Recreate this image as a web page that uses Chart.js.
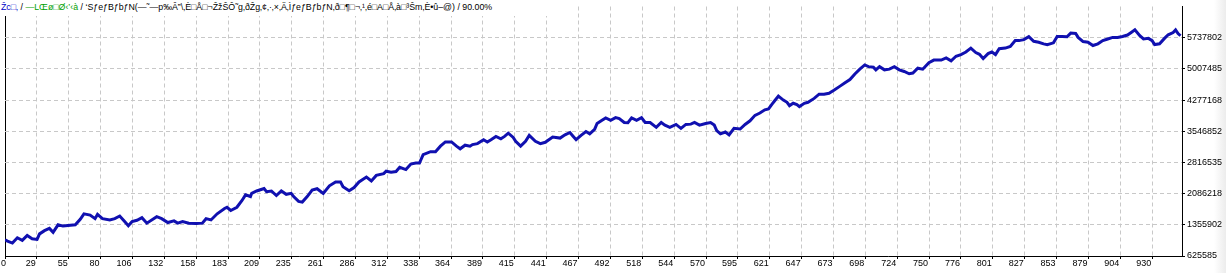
<!DOCTYPE html>
<html>
<head>
<meta charset="utf-8">
<script src="https://cdn.jsdelivr.net/npm/chart.js@4/dist/chart.umd.min.js"></script>
<style>
  html, body { margin:0; padding:0; background:#fff; }
  #wrap { position:relative; width:1226px; height:273px; overflow:hidden; background:#fff; }
  #edge { position:absolute; right:0; top:0; width:12px; height:273px;
          background:linear-gradient(to right, #ffffff, #ececec); }
  #c { position:absolute; left:0; top:0; }
  #title { position:absolute; left:1px; top:1px; height:15px; width:560px; background:#fff;
           font-family:'Liberation Sans', Arial, sans-serif; font-size:8.8px; line-height:13px;
           white-space:nowrap; color:#000; }
  #title .b { color:#0000c8; }
  #title .g { color:#00a000; }
</style>
</head>
<body>
<div id="wrap">
  <div id="edge"></div>
  <canvas id="c" width="1226" height="273"></canvas>
  <div id="title"><span class="b">Žc□‚</span> / <span class="g">—LŒø□Ø‹’‹à</span> / ‘SƒeƒBƒbƒN(—˜—p‰Â”\‚È□Å□¬ŽžŠÔ˜g‚ðŽg‚¢‚·‚×‚Ä‚ÌƒeƒBƒbƒN‚ð□¶□¬‚¹‚é□A□Å‚à□³Šm‚È•û–@) / 90.00%</div>
</div>
<script>
// ---- data ----
const xTickLabels = ['0','29','55','80','106','132','158','183','209','235','261','286','312','338','364','389','415','441','467','492','518','544','570','595','621','647','673','698','724','750','776','801','827','853','879','904','930'];
const yTickValues = [625585, 1355902, 2086218, 2816535, 3546852, 4277168, 5007485, 5737802];

const trades = [0,2,6,10,14,18,22,26,28,32,36,39,43,47,51,57,61,64,69,73,75,79,85,89,93,97,100,103,107,111,115,123,127,132,137,140,144,149,155,160,163,167,172,178,180,183,188,192,195,199,200,204,210,212,216,220,224,228,232,234,238,241,245,249,253,258,263,268,272,274,279,283,287,293,297,301,307,309,313,317,320,325,329,333,336,339,345,349,353,357,362,366,369,373,377,379,383,388,391,394,398,402,405,408,412,414,418,422,425,430,434,438,444,450,454,458,460,463,467,471,474,478,480,484,487,491,495,498,502,505,508,512,516,519,523,528,532,535,539,544,548,552,556,559,563,568,572,575,577,580,584,587,591,596,600,604,608,612,616,619,622,624,627,631,634,636,639,642,644,648,651,656,660,664,668,672,677,681,685,689,693,697,700,704,706,709,713,717,721,725,729,733,736,740,744,749,753,759,763,767,771,775,779,783,787,790,793,797,800,803,806,811,815,819,822,826,830,834,838,842,845,850,853,857,861,864,868,870,874,878,882,886,890,894,898,902,906,910,913,916,920,923,927,930,932,936,940,943,947,949,951,953];

const balance = [1006700,974800,929100,1052400,990700,1104900,1029500,1013600,1143700,1219000,1271500,1180200,1355900,1326200,1339900,1355900,1486000,1613800,1584100,1499700,1600100,1499700,1470000,1499700,1561300,1431200,1333100,1431200,1463200,1522500,1394700,1545300,1499700,1408400,1447200,1394700,1431200,1394700,1385600,1394700,1499700,1470000,1613800,1737000,1766700,1691400,1766700,1919600,2056500,2017800,2093100,2147800,2207200,2131900,2147800,2040600,2147800,2070200,2093100,2017800,1903600,1887700,2017800,2170700,2200300,2093100,2268800,2360100,2360100,2246000,2154700,2230000,2360100,2474200,2382900,2513000,2554100,2611100,2588300,2604300,2702400,2649900,2777700,2800600,2800600,2999100,3067600,3067600,3197700,3295800,3295800,3197700,3136000,3220500,3197700,3234200,3257000,3348300,3295800,3348300,3425900,3371100,3425900,3501200,3403100,3311800,3197700,3311800,3448700,3311800,3257000,3289000,3409900,3387100,3462400,3517200,3448700,3348300,3448700,3540000,3485200,3592500,3729400,3804700,3859500,3804700,3866400,3843500,3752300,3745400,3859500,3804700,3866400,3752300,3752300,3638100,3752300,3690600,3638100,3706600,3615300,3706600,3713500,3752300,3690600,3729400,3752300,3690600,3562800,3485200,3528600,3462400,3615300,3599300,3706600,3791100,3918900,3973600,4048900,4071800,4185900,4261200,4368500,4277200,4224700,4147100,4201900,4169900,4124300,4201900,4224700,4316000,4414100,4414100,4436900,4505400,4603500,4681100,4756400,4886500,5000600,5098800,5060000,5046300,4984700,5060000,4984700,5000600,5060000,4984700,4945900,4893400,4909300,5023500,5000600,5151300,5212900,5212900,5265400,5196900,5304200,5343000,5402300,5493600,5388600,5349800,5251700,5365800,5402300,5343000,5479900,5493600,5532400,5669300,5669300,5692200,5760600,5653400,5630500,5594000,5571200,5616800,5767500,5767500,5760600,5845100,5835900,5744600,5646500,5630500,5555200,5594000,5669300,5708100,5744600,5744600,5767500,5799400,5858800,5920400,5783400,5708100,5721800,5669300,5578000,5594000,5721800,5806300,5858800,5920400,5835900,5783400];

// ---- scale set-up ----
const X_GRID_STEP = 930 / 36;                 // trades per grid division
const X_MAX = 954.2;                          // right edge of plot
const Y_STEP = (yTickValues[7] - yTickValues[0]) / 7;
const Y_MIN = yTickValues[0];
const Y_MAX = yTickValues[0] + 8 * Y_STEP;

const FONT = { family: "'Liberation Sans', Arial, sans-serif", size: 9, lineHeight: 1 };
const GRID_GRAY = '#c8c8c8';

const labelFix = {
  id: 'labelFix',
  beforeDraw(chart) {
    const items = chart.scales.x.getLabelItems();
    items.forEach((it, i) => {
      if (i === 0) { it.options.textAlign = 'left'; it.options.translation[0] = 1; }
      else { it.options.translation[0] -= 1; }
    });
  }
};

new Chart(document.getElementById('c'), {
  type: 'line',
  data: {
    datasets: [{
      label: 'Balance',
      data: trades.map((t, i) => ({ x: t, y: balance[i] })),
      borderColor: '#1010b0',
      borderWidth: 3,
      pointRadius: 0,
      tension: 0,
      fill: false
    }]
  },
  options: {
    responsive: false,
    animation: false,
    devicePixelRatio: 1,
    layout: { padding: 0 },
    plugins: { legend: { display: false }, tooltip: { enabled: false }, title: { display: false } },
    scales: {
      x: {
        type: 'linear', position: 'bottom', min: 0, max: X_MAX,
        afterBuildTicks: s => { s.ticks = xTickLabels.map((_, i) => ({ value: i * X_GRID_STEP })); },
        afterFit: s => { s.height = 17; },
        ticks: { autoSkip: false, maxRotation: 0, minRotation: 0, align: 'end', padding: 0,
                 color: '#000', font: FONT, callback: (v, i) => xTickLabels[i] },
        grid: { color: c => c.index === 0 ? '#000' : GRID_GRAY, lineWidth: 1, drawTicks: true,
                tickLength: 3, tickColor: '#000', tickBorderDash: [] },
        border: { display: true, color: '#000', width: 1, dash: c => c.index === 0 ? [] : [4, 3] }
      },
      y: {
        type: 'linear', position: 'right', min: Y_MIN, max: Y_MAX,
        afterBuildTicks: s => { s.ticks = yTickValues.map(v => ({ value: v })); },
        afterFit: s => { s.width = 44; },
        ticks: { autoSkip: false, padding: 2, color: '#000', font: FONT,
                 callback: (v, i) => String(yTickValues[i]) },
        grid: { color: GRID_GRAY, lineWidth: 1, drawTicks: true, tickLength: 3,
                tickColor: '#000', tickBorderDash: [] },
        border: { display: true, color: '#000', width: 1, dash: [4, 3] }
      }
    }
  },
  plugins: [labelFix]
});
</script>
</body>
</html>
